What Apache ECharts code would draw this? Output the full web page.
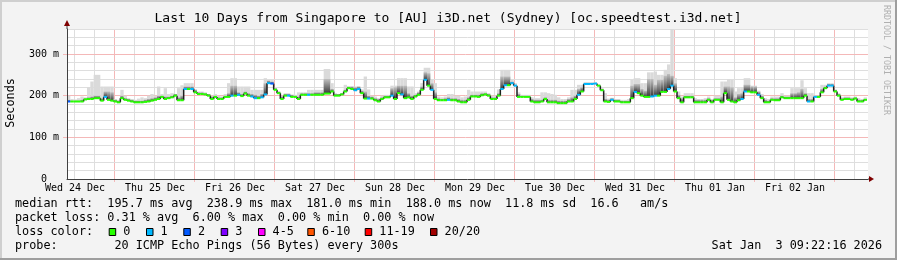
<!DOCTYPE html>
<html><head><meta charset="utf-8">
<script src="https://cdn.jsdelivr.net/npm/echarts@6/dist/echarts.min.js"></script>
<style>html,body{margin:0;padding:0;background:#f3f3f3}#c{width:897px;height:260px}</style>
</head><body><div id="c"></div>
<script>
// ---------- data ----------
const titleText = 'Last 10 Days from Singapore to [AU] i3D.net (Sydney) [oc.speedtest.i3d.net]';
const yAxisName = 'Seconds';
const dayLabels = ['Wed 24 Dec','Thu 25 Dec','Fri 26 Dec','Sat 27 Dec','Sun 28 Dec','Mon 29 Dec','Tue 30 Dec','Wed 31 Dec','Thu 01 Jan','Fri 02 Jan'];
const yTickValues = [0, 100, 200, 300];
const yTickLabels = ['0  ', '100 m', '200 m', '300 m'];
// hourly median rtt (ms)
const median = [
186,186,186,186,186,191,192,192,194,194,
188,197,190,188,186,184,194,190,188,186,
184,184,184,185,186,188,190,192,197,192,
194,196,200,189,189,216,216,216,208,204,
204,203,200,192,197,192,192,197,197,200,
200,202,199,205,200,198,194,194,196,203,
230,229,214,206,192,200,200,197,197,192,
202,202,202,202,202,202,202,205,205,210,
200,200,203,210,218,216,213,216,206,193,
193,193,189,186,192,196,196,200,192,206,
203,194,196,192,198,202,214,238,224,214,
192,189,189,189,190,189,189,186,184,184,
190,198,198,197,201,203,200,192,192,200,
216,225,225,230,224,197,197,197,197,186,
184,184,186,192,184,184,184,182,182,182,
186,186,192,202,210,228,228,228,229,224,
213,186,185,190,186,186,184,184,184,194,
209,206,200,197,197,198,200,200,209,209,
216,224,210,194,184,196,196,196,184,184,
184,184,190,184,190,190,184,206,190,186,
184,189,192,210,210,208,208,202,194,184,
184,190,189,189,196,194,194,194,194,194,
194,200,186,186,197,197,208,218,224,224,
210,200,190,192,192,190,193,186,186,190];
// hourly highest ping (outer smoke, ms)
const smokeTop = [
200,192,191,194,198,196,220,234,250,250,
222,222,222,222,192,190,214,200,194,192,
190,193,196,194,200,204,200,222,204,218,
204,206,204,218,225,230,230,230,215,210,
210,208,204,200,204,200,198,204,230,242,
242,222,222,222,222,214,214,214,214,242,
238,238,218,210,200,206,206,202,202,208,
208,208,214,214,214,214,214,264,264,230,
206,204,206,226,222,222,222,222,215,246,
215,200,198,194,200,202,202,224,224,242,
242,242,222,222,206,210,230,267,267,238,
230,198,196,198,204,204,200,200,196,198,
214,210,210,210,210,210,206,200,200,215,
262,262,262,238,230,208,202,202,202,196,
194,194,208,208,206,204,202,196,192,192,
196,214,214,226,226,232,232,232,232,226,
218,206,193,195,192,192,190,190,192,238,
242,242,230,230,256,256,258,250,250,262,
275,362,242,210,198,206,206,206,194,192,
192,194,198,192,200,200,234,234,240,238,
210,218,218,242,242,224,224,212,204,194,
192,198,198,198,206,200,200,218,218,218,
237,218,206,206,200,200,226,226,230,230,
214,206,196,198,198,196,198,194,192,196];
// hourly upper dense smoke (ms)
const smokeCore = [
190,188,188,188,190,194,196,198,200,200,
194,210,210,208,190,188,200,194,192,190,
188,188,188,190,192,194,196,200,200,198,
198,200,204,196,200,222,222,222,214,208,
208,206,204,198,200,196,196,200,206,224,
224,208,204,210,206,204,202,200,204,230,
236,234,218,210,198,204,204,202,200,198,
206,206,206,206,208,208,208,240,240,216,
204,204,206,214,222,222,220,222,212,210,
200,198,194,192,196,200,200,218,220,224,
224,224,206,200,202,208,222,256,254,230,
208,194,192,194,196,194,194,192,190,190,
196,202,202,202,206,206,204,196,196,206,
246,246,246,234,226,204,200,200,200,192,
190,190,190,196,190,190,190,188,188,188,
192,196,200,216,220,231,231,231,231,226,
216,192,190,194,190,190,188,188,188,224,
228,228,216,212,240,240,226,238,238,248,
252,248,230,202,194,200,200,200,190,190,
190,190,194,190,194,194,198,222,222,220,
196,204,206,226,226,222,222,210,200,190,
188,194,194,194,200,198,198,206,206,208,
216,206,192,192,200,200,216,222,228,228,
214,204,194,196,196,194,196,190,190,192];
// hourly lost pings (of 20)
const loss = [
2,0,0,0,0,0,0,0,0,0,
0,1,0,0,0,0,0,0,0,0,
0,0,0,0,0,0,0,0,0,0,
0,0,0,0,0,1,0,1,0,0,
0,0,0,0,0,0,0,0,0,1,
0,1,0,0,0,1,1,0,1,1,
1,2,0,0,0,0,1,0,0,0,
0,0,1,0,0,0,0,0,0,0,
0,0,0,0,0,0,1,1,0,0,
1,0,0,0,0,0,0,1,0,0,
1,0,0,0,0,0,0,1,0,1,
0,0,0,0,1,0,0,0,0,0,
0,0,0,0,0,0,0,0,0,0,
1,1,0,1,1,0,0,0,0,0,
0,0,0,0,0,0,0,0,0,0,
0,0,0,1,0,1,1,1,1,0,
0,0,0,1,0,0,0,0,0,0,
1,0,0,0,0,1,1,0,0,0,
1,1,0,0,0,0,0,0,0,0,
0,0,0,0,0,0,0,0,0,0,
0,0,1,1,0,0,0,1,0,0,
0,0,0,0,0,0,0,0,0,0,
0,0,1,0,1,0,0,0,1,1,
0,0,0,0,0,0,0,0,0,0];
const lossBins = ['0','1','2','3','4-5','6-10','11-19','20/20'];
const lossBinMax = [0,1,2,3,5,10,19,20];
const lossColors = ['#26ff00','#00b8ff','#0059ff','#7e00ff','#ff00ff','#ff5500','#ff0000','#a10000'];
const legendRows = [
  'median rtt:  195.7 ms avg  238.9 ms max  181.0 ms min  188.0 ms now  11.8 ms sd  16.6   am/s',
  'packet loss: 0.31 % avg  6.00 % max  0.00 % min  0.00 % now',
  'loss color:',
  'probe:        20 ICMP Echo Pings (56 Bytes) every 300s'
];
const stampText = 'Sat Jan  3 09:22:16 2026';
const watermark = 'RRDTOOL / TOBI OETIKER';

// ---------- layout ----------
const FONT = '"DejaVu Sans Mono", monospace';
const X_MAX = 240.3, DAY = 24, MINOR = 6;
const Y_MAX = 360, Y_STEP = 20, Y_MAJOR = 100;
const FIRST_MINOR = 2.25, FIRST_MAJOR = 14.25, FIRST_LABEL = 2.4;
const GRID = {left: 67, right: 29, top: 29, bottom: 81};
const LEG_X = 15, LEG_Y0 = 204, LEG_DY = 14;
const BOX_X = [108.7, 146, 183.3, 220.7, 258, 307.3, 364.7, 430];
const GRID_GREY = '#dedede', GRID_RED = '#f4b8b8';

const majorX = []; for (let t = FIRST_MAJOR; t < X_MAX; t += DAY) majorX.push(+t.toFixed(2));
const minorX = []; for (let t = FIRST_MINOR; t < X_MAX; t += MINOR) {
  const k = (t - FIRST_MAJOR) / DAY; if (Math.abs(k - Math.round(k)) > 0.01) minorX.push(+t.toFixed(2)); }
const labelX = dayLabels.map((_, i) => FIRST_LABEL + i * DAY);
const binOf = n => { for (let i = 0; i < lossBinMax.length; i++) if (n <= lossBinMax[i]) return i; return 7; };

const rows = median.map((m, i) => [i, m, smokeTop[i], smokeCore[i], loss[i], i > 0 ? median[i - 1] : m]);
const vLines = minorX.map(v => ({v: v, major: false})).concat(majorX.map(v => ({v: v, major: true})));
const hLines = []; for (let v = Y_STEP; v <= Y_MAX; v += Y_STEP) hLines.push({v: v, major: v % Y_MAJOR === 0});

const crisp = p => Math.floor(p) + 0.5;
function clip(r, cs) { return echarts.graphic.clipRectByRect(r, cs); }

function renderSmoke(params, api) {
  const h = api.value(0), m = api.value(1), top = api.value(2), core = api.value(3);
  const a = api.coord([h, m]), b = api.coord([h + 1, top]), c = api.coord([h + 1, core]);
  const cs = params.coordSys;
  const children = [];
  const lr = clip({x: a[0], y: b[1], width: b[0] - a[0], height: a[1] - b[1]}, cs);
  if (lr) children.push({type: 'rect', shape: lr, style: {fill: '#dadada'}});
  const cr = clip({x: a[0], y: c[1], width: c[0] - a[0], height: a[1] - c[1]}, cs);
  if (cr && cr.height > 0) children.push({type: 'rect', shape: cr, style: {fill: {type: 'linear', x: 0, y: 0, x2: 0, y2: 1,
    colorStops: [{offset: 0, color: '#c0c0c0'}, {offset: 1, color: '#3a3a3a'}]}}});
  return {type: 'group', children};
}
function renderSteps(params, api) {
  const h = api.value(0), m = api.value(1), prev = api.value(5);
  if (h === 0) return null;
  const p = api.coord([h, m]), q = api.coord([h, prev]);
  return {type: 'line', shape: {x1: p[0], y1: q[1], x2: p[0], y2: p[1]}, style: {stroke: '#1e1e1e', lineWidth: 1.5}};
}
function renderMedian(params, api) {
  const h = api.value(0), m = api.value(1), l = api.value(4);
  const p = api.coord([h, m]), q = api.coord([h + 1, m]);
  return {type: 'line', shape: {x1: p[0], y1: p[1], x2: q[0], y2: q[1]}, style: {stroke: lossColors[binOf(l)], lineWidth: 2}};
}

const chart = echarts.init(document.getElementById('c'), null, {renderer: 'canvas', width: 897, height: 260});

const graphics = [];
graphics.push({type: 'rect', shape: {x: 0, y: 0, width: 897, height: 2}, style: {fill: '#cfcfcf'}, z: 100});
graphics.push({type: 'rect', shape: {x: 0, y: 0, width: 2, height: 260}, style: {fill: '#cfcfcf'}, z: 100});
graphics.push({type: 'rect', shape: {x: 0, y: 258, width: 897, height: 2}, style: {fill: '#9e9e9e'}, z: 101});
graphics.push({type: 'rect', shape: {x: 895, y: 0, width: 2, height: 260}, style: {fill: '#9e9e9e'}, z: 101});
graphics.push({type: 'text', x: 448, y: 19, style: {text: titleText, font: '13px ' + FONT, fill: '#000', align: 'center', verticalAlign: 'middle'}, z: 100});
graphics.push({type: 'text', x: 10.5, y: 103, rotation: Math.PI / 2, style: {text: yAxisName, font: '11.8px ' + FONT, fill: '#000', align: 'center', verticalAlign: 'middle'}, z: 100});
graphics.push({type: 'text', x: 886.5, y: 60, rotation: -Math.PI / 2, style: {text: watermark, font: '8.3px ' + FONT, fill: '#b0b0b0', align: 'center', verticalAlign: 'middle'}, z: 100});
legendRows.forEach((t, i) => graphics.push({type: 'text', x: LEG_X, y: LEG_Y0 + i * LEG_DY, style: {text: t, font: '11.8px ' + FONT, fill: '#000', align: 'left', verticalAlign: 'middle'}, z: 100}));
graphics.push({type: 'text', x: 882, y: LEG_Y0 + 3 * LEG_DY, style: {text: stampText, font: '11.8px ' + FONT, fill: '#000', align: 'right', verticalAlign: 'middle'}, z: 100});
lossBins.forEach((b, i) => {
  graphics.push({type: 'rect', shape: {x: BOX_X[i] + 0.5, y: LEG_Y0 + 2 * LEG_DY - 3.5, width: 6.5, height: 7}, style: {fill: lossColors[i], stroke: '#000', lineWidth: 1}, z: 100});
  graphics.push({type: 'text', x: BOX_X[i] + 14.6, y: LEG_Y0 + 2 * LEG_DY, style: {text: b, font: '11.8px ' + FONT, fill: '#000', align: 'left', verticalAlign: 'middle'}, z: 100});
});

chart.setOption({
  animation: false,
  backgroundColor: '#f3f3f3',
  grid: {left: GRID.left, right: GRID.right, top: GRID.top, bottom: GRID.bottom, show: false},
  xAxis: {
    type: 'value', min: 0, max: X_MAX, z: 10,
    axisLine: {show: true, onZero: false, lineStyle: {color: '#404040', width: 1}},
    axisTick: {show: false},
    axisLabel: {show: true, customValues: labelX, margin: 4, fontFamily: FONT, fontSize: 10, color: '#000',
      formatter: v => dayLabels[Math.round((v - FIRST_LABEL) / DAY)] || ''},
    splitLine: {show: false}
  },
  yAxis: {
    type: 'value', min: 0, max: Y_MAX, interval: Y_STEP, z: 10,
    axisLine: {show: true, onZero: false, lineStyle: {color: '#404040', width: 1}},
    axisTick: {show: false},
    axisLabel: {show: true, customValues: yTickValues, margin: 8, fontFamily: FONT, fontSize: 10, color: '#000',
      formatter: v => yTickLabels[yTickValues.indexOf(v)] ?? ''},
    splitLine: {show: false}
  },
  series: [
    {type: 'custom', name: 'smoke', renderItem: renderSmoke, data: rows, encode: {x: 0, y: 1}, silent: true, z: 3},
    {type: 'custom', name: 'steps', renderItem: renderSteps, data: rows, encode: {x: 0, y: 1}, silent: true, z: 4},
    {type: 'custom', name: 'median', renderItem: renderMedian, data: rows, encode: {x: 0, y: 1}, silent: true, z: 5}
  ],
  graphic: graphics
});

// plot background, grid lines and axis arrows, positioned through the chart's own scales
const px = (x, y) => chart.convertToPixel({gridIndex: 0}, [x, y]);
const o = px(0, 0), e = px(X_MAX, Y_MAX);
const extra = [];
extra.push({type: 'rect', silent: true, z: 0, shape: {x: o[0], y: e[1], width: e[0] - o[0], height: o[1] - e[1]}, style: {fill: '#ffffff'}});
vLines.forEach(g => {
  const x = crisp(px(g.v, 0)[0]);
  extra.push({type: 'line', silent: true, z: 1, shape: {x1: x, y1: o[1] + (g.major ? 3 : 0), x2: x, y2: e[1]},
    style: {stroke: g.major ? GRID_RED : GRID_GREY, lineWidth: 1}});
});
hLines.forEach(g => {
  const y = crisp(px(0, g.v)[1]);
  extra.push({type: 'line', silent: true, z: 1, shape: {x1: o[0] - (g.major ? 4 : 0), y1: y, x2: e[0], y2: y},
    style: {stroke: g.major ? GRID_RED : GRID_GREY, lineWidth: 1}});
});
extra.push(
  {type: 'polygon', shape: {points: [[o[0] - 3, e[1] - 3], [o[0] + 3, e[1] - 3], [o[0], e[1] - 9]]}, style: {fill: '#7f0000'}, z: 100},
  {type: 'polygon', shape: {points: [[e[0] + 1, o[1] - 3], [e[0] + 1, o[1] + 3], [e[0] + 6, o[1]]]}, style: {fill: '#7f0000'}, z: 100},
  {type: 'line', shape: {x1: o[0], y1: e[1], x2: o[0], y2: e[1] - 4}, style: {stroke: '#404040', lineWidth: 1}, z: 99},
  {type: 'line', shape: {x1: e[0], y1: o[1], x2: e[0] + 2, y2: o[1]}, style: {stroke: '#404040', lineWidth: 1}, z: 99}
);
chart.setOption({graphic: graphics.concat(extra)});
</script></body></html>
